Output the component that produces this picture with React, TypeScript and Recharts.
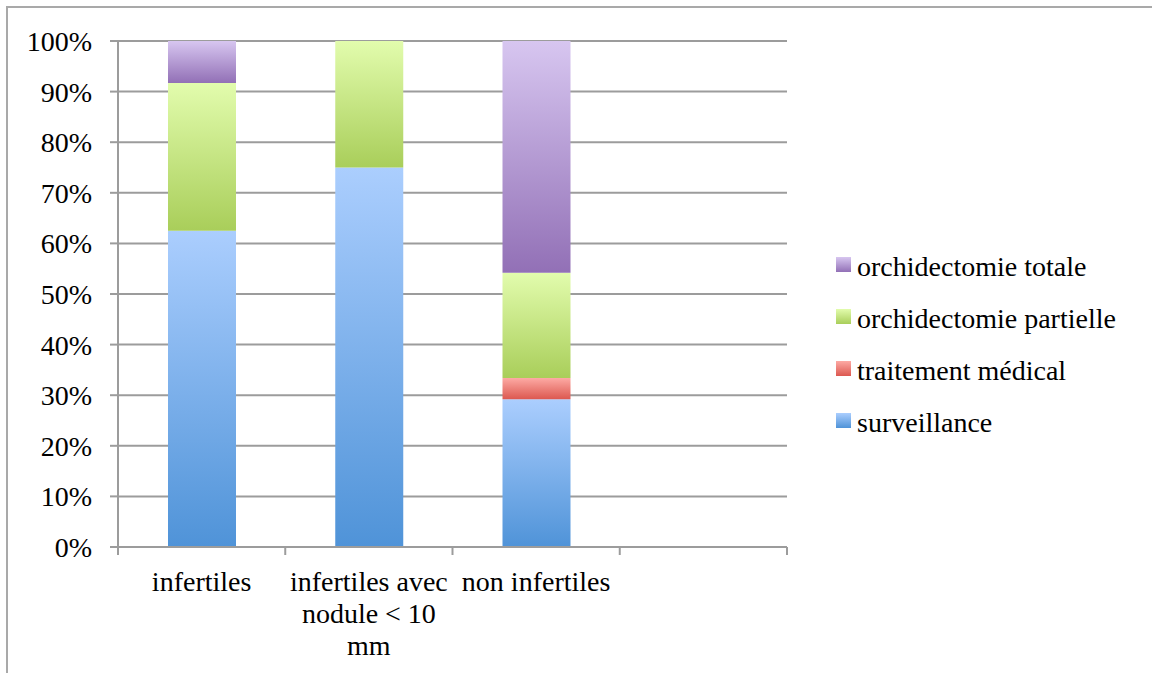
import React from "react";
import { BarChart, Bar, XAxis, YAxis, CartesianGrid, Legend } from "recharts";

// Categories along the x axis (the fourth slot is left empty)
const categories = ["infertiles", "infertiles avec nodule < 10 mm", "non infertiles", ""];
const categoryLabelLines = [["infertiles"], ["infertiles avec", "nodule < 10", "mm"], ["non infertiles"], []];

// Share of each treatment per group, in percent
const surveillance = [62.5, 75, 29.2, 0];
const traitementMedical = [0, 0, 4.2, 0];
const orchidectomiePartielle = [29.2, 25, 20.8, 0];
const orchidectomieTotale = [8.3, 0, 45.8, 0];

const yTicks = [0, 10, 20, 30, 40, 50, 60, 70, 80, 90, 100];

const series = [
  { key: "surveillance", name: "surveillance", values: surveillance, top: "#abcefe", bottom: "#4f93d8" },
  { key: "traitement", name: "traitement médical", values: traitementMedical, top: "#fdaaa4", bottom: "#dc5850" },
  { key: "partielle", name: "orchidectomie partielle", values: orchidectomiePartielle, top: "#e2fcad", bottom: "#a9ce5a" },
  { key: "totale", name: "orchidectomie totale", values: orchidectomieTotale, top: "#d7c6f0", bottom: "#9270b6" },
];

const data = categories.map((c, i) => {
  const row: Record<string, string | number> = { category: c };
  series.forEach((s) => {
    row[s.key] = s.values[i];
  });
  return row;
});

const FONT = "'Liberation Serif', 'Times New Roman', serif";
const GRID = "#9c9c9c";
const TICK_LEN = 8;

// Category label (possibly on several lines) plus the tick marks at the band edges
const CategoryTick = (props: any) => {
  const { x, y, payload, index, visibleTicksCount } = props;
  const i = typeof index === "number" ? index : categories.indexOf(payload?.value);
  const lines = categoryLabelLines[i] ?? [];
  const half = payload?.offset ?? 0;
  const isLast = i === (visibleTicksCount ?? categories.length) - 1;
  return (
    <g>
      <line x1={x - half} x2={x - half} y1={y} y2={y + TICK_LEN} stroke={GRID} strokeWidth={2} />
      {isLast && <line x1={x + half} x2={x + half} y1={y} y2={y + TICK_LEN} stroke={GRID} strokeWidth={2} />}
      {lines.map((line, k) => (
        <text
          key={k}
          x={x}
          y={y + 44 + k * 32}
          textAnchor="middle"
          fontFamily={FONT}
          fontSize={28}
          fill="#000"
        >
          {line}
        </text>
      ))}
    </g>
  );
};

const LegendContent = () => (
  <div style={{ fontFamily: FONT, fontSize: 28, color: "#000" }}>
    {[...series].reverse().map((s) => (
      <div key={s.key} style={{ display: "flex", alignItems: "center", height: 52, whiteSpace: "nowrap" }}>
        <span
          style={{
            display: "inline-block",
            width: 15,
            height: 15,
            marginRight: 6,
            background: `linear-gradient(${s.top}, ${s.bottom})`,
          }}
        />
        <span style={{ position: "relative", top: 3 }}>{s.name}</span>
      </div>
    ))}
  </div>
);

export default function App() {
  return (
    <div style={{ position: "fixed", left: 0, top: 0, width: 1152, height: 673, background: "#fff" }}>
      <div
        style={{
          position: "absolute",
          left: 6,
          top: 6,
          width: 1200,
          height: 720,
          borderTop: "2px solid #a9a9a9",
          borderLeft: "2px solid #a9a9a9",
        }}
      />
      <BarChart
        width={1152}
        height={673}
        data={data}
        margin={{ top: 41, right: 365, bottom: 0, left: 0 }}
        style={{ position: "absolute", left: 0, top: 0 }}
      >
        <defs>
          {series.map((s) => (
            <linearGradient key={s.key} id={`grad-${s.key}`} x1="0" y1="0" x2="0" y2="1">
              <stop offset="0%" stopColor={s.top} />
              <stop offset="100%" stopColor={s.bottom} />
            </linearGradient>
          ))}
        </defs>
        <CartesianGrid vertical={false} stroke={GRID} strokeWidth={2} />
        <XAxis
          dataKey="category"
          height={126}
          stroke={GRID}
          strokeWidth={2}
          tickLine={false}
          tickSize={0}
          tickMargin={0}
          interval={0}
          tick={<CategoryTick />}
        />
        <YAxis
          domain={[0, 100]}
          ticks={yTicks}
          width={118}
          tickSize={TICK_LEN}
          tickMargin={18}
          stroke={GRID}
          strokeWidth={2}
          tickFormatter={(v: number) => `${v}%`}
          tick={{ fill: "#000", fontFamily: FONT, fontSize: 28 }}
        />
        <Legend
          layout="vertical"
          align="center"
          verticalAlign="middle"
          content={<LegendContent />}
          wrapperStyle={{ position: "absolute", left: 836, top: 238, width: 320 }}
        />
        {series.map((s) => (
          <Bar
            key={s.key}
            dataKey={s.key}
            name={s.name}
            stackId="total"
            barSize={68}
            fill={`url(#grad-${s.key})`}
            isAnimationActive={false}
          />
        ))}
      </BarChart>
    </div>
  );
}
